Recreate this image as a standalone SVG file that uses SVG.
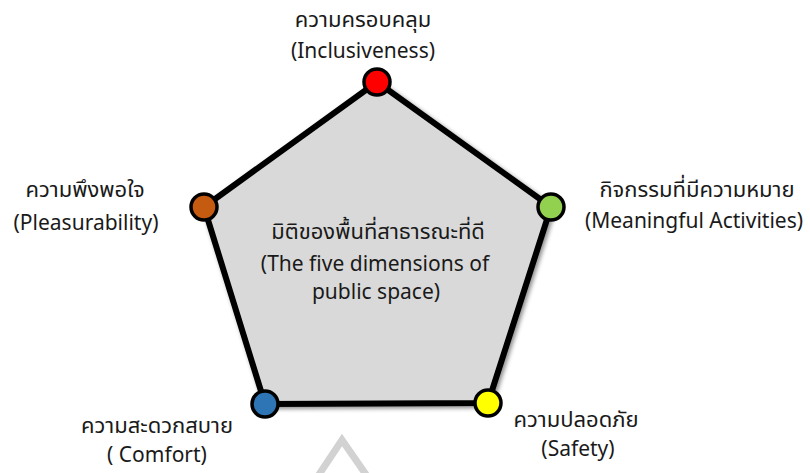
<svg xmlns="http://www.w3.org/2000/svg" width="810" height="473" viewBox="0 0 810 473">
<defs>
<style>
.lbl{font-family:"Noto Sans Thai","Noto Sans","DejaVu Sans",sans-serif;font-size:21px;fill:#1a1a1a;text-anchor:middle}
.th{font-size:22px}
.edge{fill:#d9d9d9;stroke:#000;stroke-width:6;stroke-linejoin:round}
.dot{stroke:#000;stroke-width:3.5}
</style>
<filter id="sh" x="-10%" y="-10%" width="120%" height="120%">
<feDropShadow dx="2" dy="2" stdDeviation="2" flood-color="#000" flood-opacity="0.45"/>
</filter>
</defs>
<rect width="810" height="473" fill="#fff"/>
<polyline points="318,476 342,440 367,476" fill="none" stroke="#d2d2d2" stroke-width="7" stroke-linejoin="miter"/>
<g id="connectors" filter="url(#sh)">
<polygon class="edge" points="377,82 551,207 488,403 265,404 204,207"/>
</g>
<g id="center">
<text class="lbl th" x="378" y="239">มิติของพื้นที่สาธารณะที่ดี</text>
<text class="lbl" x="375" y="271">(The five dimensions of</text>
<text class="lbl" x="376" y="299">public space)</text>
</g>
<g id="inclusiveness">
<circle class="dot" cx="377" cy="82" r="13" fill="#ff0000"/>
<text class="lbl th" x="363" y="27">ความครอบคลุม</text>
<text class="lbl" x="363" y="58">(Inclusiveness)</text>
</g>
<g id="meaningful">
<circle class="dot" cx="551" cy="207" r="13" fill="#92d050"/>
<text class="lbl th" x="697" y="197">กิจกรรมที่มีความหมาย</text>
<text class="lbl" x="694" y="228">(Meaningful Activities)</text>
</g>
<g id="safety">
<circle class="dot" cx="488" cy="403" r="13" fill="#ffff00"/>
<text class="lbl th" x="576" y="427">ความปลอดภัย</text>
<text class="lbl" x="578" y="456">(Safety)</text>
</g>
<g id="comfort">
<circle class="dot" cx="265" cy="404" r="13" fill="#2e75b6"/>
<text class="lbl th" x="157" y="433">ความสะดวกสบาย</text>
<text class="lbl" x="157" y="462">( Comfort)</text>
</g>
<g id="pleasurability">
<circle class="dot" cx="204" cy="207" r="13" fill="#c55a11"/>
<text class="lbl th" x="85" y="197">ความพึงพอใจ</text>
<text class="lbl" x="86" y="230">(Pleasurability)</text>
</g>
</svg>
